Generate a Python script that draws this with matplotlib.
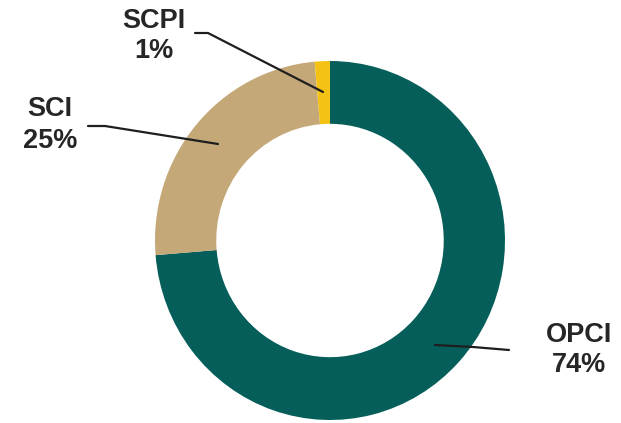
import matplotlib
matplotlib.use("Agg")
import matplotlib.pyplot as plt

categories = ["OPCI", "SCI", "SCPI"]
values = [73.7, 24.9, 1.4]
pct_labels = ["74%", "25%", "1%"]
colors = ["#055E59", "#C4A878", "#F3C215"]

W, H = 621, 423
fig = plt.figure(figsize=(W / 100, H / 100), dpi=100)

# pie axes placed on the ring's bounding box (pixels: x 155-505, y 61-420)
x0, x1, y0, y1 = 155, 505, 61, 420
pax = fig.add_axes([x0 / W, 1 - y1 / H, (x1 - x0) / W, (y1 - y0) / H])
pax.pie(values, colors=colors, startangle=90, counterclock=False,
        radius=1.0, wedgeprops=dict(width=0.35, linewidth=0))
pax.set_xlim(-1, 1)
pax.set_ylim(-1, 1)
pax.set_aspect("auto")
pax.axis("off")

# overlay axes in pixel coordinates for labels and leader lines
ax = fig.add_axes([0, 0, 1, 1], zorder=3)
ax.set_xlim(0, W)
ax.set_ylim(H, 0)
ax.axis("off")

label_pos = {"OPCI": (579, 350), "SCI": (50, 125), "SCPI": (154, 36)}
leaders = {
    "OPCI": ([435, 473, 509], [345, 347, 350]),
    "SCI": ([88, 105, 218], [126, 126, 144]),
    "SCPI": ([195, 208, 323], [33, 33, 92]),
}
for cat, lab in zip(categories, pct_labels):
    x, y = label_pos[cat]
    ax.text(x, y, f"{cat}\n{lab}", ha="center", va="center",
            fontsize=19.5, fontweight="bold", color="#262626",
            family="Liberation Sans", linespacing=1.25)
    lx, ly = leaders[cat]
    ax.plot(lx, ly, color="#1e1e1e", lw=1.6, solid_capstyle="round")

fig.savefig("out.png", dpi=100)
